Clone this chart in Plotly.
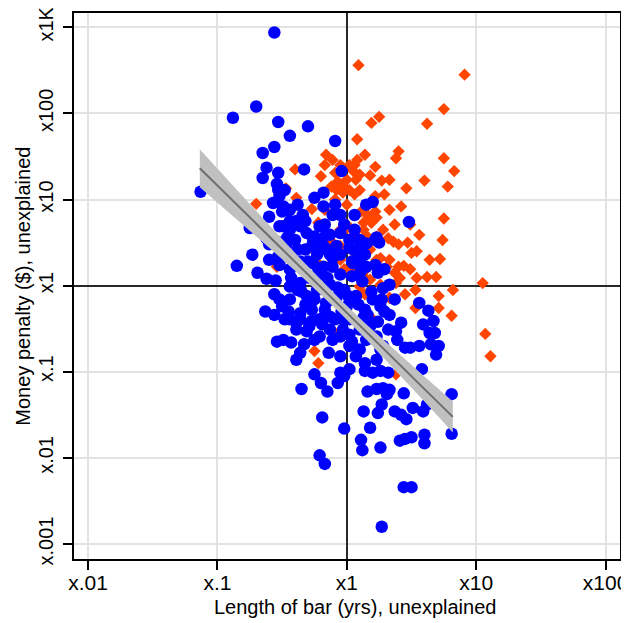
import plotly.graph_objects as go

# Values are log10 residuals (axis labels show the multiplicative factor)
blue_x = [-0.56,-0.70,-0.88,-0.53,-0.30,-0.44,-0.09,-0.56,-0.65,-0.62,-0.53,-0.33,-0.04,-0.65,-0.54,-0.53,-0.48,-1.13,-0.18,-0.25,
          -0.85,-0.73,-0.69,-0.62,-0.55,-0.63,-0.54,-0.43,-0.33,-0.50,-0.45,-0.44,-0.38,-0.75,-0.71,-0.60,-0.53,-0.57,-0.50,-0.21,
          -0.16,-0.11,-0.25,-0.05,-0.49,-0.39,-0.36,-0.39,-0.25,-0.20,-0.15,-0.35,-0.07,-0.02,-0.05,0.02,0.07,0.10,0.02,-0.19,
          -0.02,0.13,0.18,0.11,0.12,0.26,0.24,0.27,0.16,0.23,0.28,0.33,0.31,0.14,0.20,0.26,0.32,0.44,0.37,0.42,
          0.46,0.51,0.59,0.62,0.41,0.45,0.50,0.60,0.60,0.81,0.81,0.58,0.49,0.56,0.65,0.69,-0.21,-0.17,0.44,0.50,
          0.27,0.15,0.20,0.48,0.23,0.25,0.15,0.09,0.02,0.24,0.28,0.20,0.26,0.29,0.56,0.63,0.67,0.59,0.64,0.68,
          0.71,0.42,0.38,0.07,0.00,-0.03,0.18,0.23,0.28,-0.18,-0.09,-0.32,-0.17,-0.49,-0.44,-0.38,-0.34,-0.60,-0.52,-0.44,
          0.22,-0.27,-0.23,-0.16,-0.11,-0.05,-0.26,-0.18,-0.11,-0.47,-0.42,-0.34,0.02,0.10,0.05,0.11,0.04,-0.36,-0.31,-0.23,
          -0.16,-0.08,-0.13,-0.36,-0.27,-0.39,-0.31,-0.21,-0.11,-0.03,0.04,0.13,0.16,0.45,-0.49,-0.14,-0.05,0.14,0.26,0.23,
          -0.26,-0.18,-0.13,-0.08,0.05,0.10,0.15,-0.21,-0.13,-0.05,-0.39,-0.29,0.20,0.15,-0.52,-0.47,-0.44,-0.36,-0.31,-0.62,
          -0.52,-0.40,-0.32,-0.36,-0.44,-0.29,-0.21,-0.13,-0.05,-0.02,0.06,0.14,0.02,-0.09,-0.17,-0.25,-0.32,-0.44,-0.48,-0.02,
          0.06,0.14,0.22,0.29,0.33,0.37,0.33,0.10,0.02,-0.56,-0.52,-0.60,
          -0.46,-0.38,-0.30,-0.22,-0.15,-0.07,0.01,0.09,0.16,0.24,0.32,0.39,-0.43,-0.35,-0.27,-0.19,-0.12,-0.04,0.04,0.12,
          0.19,0.27,-0.21,-0.13,-0.05,0.06,0.10,-0.36,-0.25,-0.44,-0.52,-0.56]
blue_y = [2.94,2.08,1.95,1.90,1.85,1.74,1.68,1.61,1.54,1.37,1.31,1.35,1.33,1.25,1.18,1.11,1.11,1.09,1.08,1.02,
          0.23,0.36,0.15,0.08,0.06,-0.30,-0.65,-0.66,-0.68,-0.24,-0.30,-0.01,-0.05,0.67,0.69,0.48,0.34,0.96,0.86,0.69,
          0.59,0.82,0.57,0.61,0.69,0.75,-0.78,-0.86,-1.03,-1.13,-1.23,-1.20,-1.13,-1.05,-1.01,-0.97,-0.82,-0.74,-0.70,-1.53,
          -1.66,-1.46,-1.65,-1.79,-1.91,-1.88,-1.48,-1.38,-1.23,-1.20,-1.19,-1.21,-1.26,-0.99,-1.01,-0.99,-1.01,-1.25,-1.46,-1.50,
          -1.55,-1.42,-1.46,-1.38,-1.80,-1.78,-1.76,-1.73,-1.83,-1.26,-1.72,-0.97,-0.72,-0.70,-0.68,-0.80,-1.97,-2.07,-2.34,-2.34,
          -2.80,0.94,0.97,0.74,0.56,0.50,0.49,0.42,0.53,0.15,-0.03,-0.16,-0.24,-0.30,-0.20,-0.29,-0.41,-0.45,-0.55,-0.55,
          -0.70,-0.43,-0.53,-0.12,-0.24,-0.39,-0.47,-0.59,-0.70,0.92,0.94,0.75,0.71,0.92,0.88,0.94,0.82,0.80,0.69,0.75,
          0.53,0.46,0.36,0.42,0.32,0.36,0.26,0.22,0.22,0.46,0.30,0.19,0.44,0.34,0.26,0.17,0.11,0.03,-0.12,-0.05,
          -0.20,-0.14,-0.36,-0.32,-0.41,-0.51,-0.53,-0.59,-0.63,-0.51,-0.65,-0.37,-0.55,-0.72,-0.63,-0.78,-0.82,-0.90,-0.74,-0.86,
          0.53,0.46,0.36,0.46,0.42,0.30,0.22,-0.39,-0.51,-0.59,-0.43,-0.47,-0.43,-0.63,1.04,0.88,0.65,0.69,0.61,0.55,
          0.50,0.53,0.42,0.28,0.19,0.09,0.13,0.01,0.13,-0.05,-0.16,-0.28,-0.39,-0.39,-0.28,-0.16,-0.22,-0.16,-0.39,0.71,
          0.65,0.36,0.24,0.19,0.01,-0.16,-0.34,-0.51,-0.57,-0.10,0.24,0.30,
          0.56,0.42,0.28,0.19,0.09,-0.02,-0.12,-0.22,-0.34,-0.42,-0.51,-0.63,0.09,-0.07,-0.28,-0.45,-0.16,-0.30,0.28,0.05,
          -0.07,-0.16,0.53,0.59,0.82,0.82,0.53,-0.39,-0.63,-0.39,-0.16,-0.34]

orange_x = [0.09,0.91,0.75,0.25,0.19,0.62,0.08,0.40,0.38,0.75,0.83,-0.16,-0.11,0.08,0.06,0.02,0.22,0.18,0.27,-0.20,
            -0.09,-0.07,-0.12,0.00,0.07,-0.03,0.02,0.60,0.46,0.78,-0.27,0.00,0.22,0.22,0.16,0.23,0.13,0.19,0.42,0.75,
            0.00,-0.22,0.00,0.06,0.13,0.16,0.28,0.32,0.36,0.40,0.47,0.54,0.50,0.74,0.72,0.26,0.33,0.40,0.44,0.49,
            0.37,0.41,0.38,0.54,0.62,0.69,1.05,0.82,0.71,0.71,0.81,0.53,0.33,0.10,0.18,0.14,0.10,0.15,0.05,1.07,
            1.11,0.20,-0.40,0.05,0.10,-0.08,-0.03,-0.47,0.11,-0.05,0.07,0.18,-0.54,-0.70,-0.39,-0.26,-0.09,-0.25,-0.22,0.10,
            0.15,-0.05,0.02,0.13,0.11,0.23,-0.05,0.23,0.31,0.26,0.38,
            -0.17,-0.05,0.14,0.29,0.33,0.37,0.06,-0.09,-0.17,-0.13,-0.21,0.49,0.56,0.64,0.53,0.45,-0.02,0.33]
orange_y = [2.56,2.45,2.05,1.96,1.89,1.88,1.70,1.56,1.48,1.48,1.33,1.52,1.46,1.46,1.40,1.40,1.38,1.28,1.22,1.27,
            1.31,1.21,1.15,1.23,1.23,1.15,1.11,1.22,1.13,1.15,0.89,0.94,1.04,0.86,0.82,0.79,0.73,0.73,0.92,0.78,
            0.71,0.73,0.67,0.61,0.65,0.57,0.65,0.55,0.51,0.48,0.50,0.40,0.38,0.53,0.31,0.32,0.30,0.22,0.23,0.19,
            0.15,0.09,0.03,0.09,0.10,0.10,0.03,-0.05,-0.12,-0.26,-0.35,-0.26,-0.14,-0.01,0.07,-0.10,0.26,0.19,0.22,-0.56,
            -0.82,-0.39,1.35,1.33,1.29,1.11,1.08,1.13,0.86,0.65,0.34,0.42,0.22,0.95,1.02,0.42,-0.55,-0.76,-0.90,1.11,
            0.92,0.30,0.15,0.11,-0.08,0.57,0.46,0.30,0.22,0.01,-1.03,
            1.40,1.40,1.52,1.06,0.88,0.71,1.06,1.00,0.88,0.53,0.24,0.71,0.59,0.30,-0.05,-0.10,0.19,1.23]

# Fitted line and 95% CI band
band_x = [-1.136,-0.9,-0.6,-0.35,-0.05,0.15,0.4,0.6,0.819]
band_lo = [1.144,0.836,0.441,0.105,-0.320,-0.624,-1.022,-1.346,-1.704]
band_hi = [1.584,1.194,0.703,0.301,-0.160,-0.448,-0.788,-1.054,-1.344]
fit_x = [-1.136,0.819]
fit_y = [1.364,-1.524]

x_tickvals = [-2,-1,0,1,2]
x_ticktext = ["x.01","x.1","x1","x10","x100"]
y_tickvals = [-3,-2,-1,0,1,2,3]
y_ticktext = ["x.001","x.01","x.1","x1","x10","x100","x1K"]
x_title = "Length of bar (yrs), unexplained"
y_title = "Money penalty ($), unexplained"

FONT = "Liberation Sans, Arial, Helvetica, sans-serif"

fig = go.Figure()
fig.add_trace(go.Scatter(x=orange_x, y=orange_y, mode="markers",
                         marker=dict(symbol="diamond", size=9.5, color="#ff4500", line=dict(width=0)),
                         showlegend=False, hoverinfo="skip"))
fig.add_trace(go.Scatter(x=blue_x, y=blue_y, mode="markers",
                         marker=dict(symbol="circle", size=12.5, color="#0000ff", line=dict(width=0)),
                         showlegend=False, hoverinfo="skip"))
fig.add_trace(go.Scatter(x=band_x + band_x[::-1], y=band_hi + band_lo[::-1], mode="lines",
                         fill="toself", fillcolor="rgb(192,192,192)", line=dict(width=0),
                         showlegend=False, hoverinfo="skip"))
fig.add_trace(go.Scatter(x=fit_x, y=fit_y, mode="lines",
                         line=dict(color="rgb(110,110,110)", width=2),
                         showlegend=False, hoverinfo="skip"))

axis_common = dict(showline=True, linecolor="black", linewidth=2, mirror=True,
                   ticks="outside", ticklen=9, tickwidth=1.5, tickcolor="black",
                   showgrid=True, gridcolor="rgb(226,226,226)", gridwidth=2,
                   zeroline=True, zerolinecolor="rgb(40,40,40)", zerolinewidth=2,
                   automargin=False, ticklabeloverflow="allow")

# The page body adds an 8px offset, so the figure is 8px smaller than the window
fig.update_layout(
    width=621, height=615,
    margin=dict(l=66, r=9, t=5, b=64, autoexpand=False),
    paper_bgcolor="white", plot_bgcolor="white",
    font=dict(family=FONT, color="black"),
    xaxis=dict(range=[-2.108, 2.111], tickvals=x_tickvals, ticktext=x_ticktext,
               ticklabelstandoff=-5, tickfont=dict(family=FONT, size=21, color="black"), **axis_common),
    yaxis=dict(range=[-3.174, 3.166], tickvals=y_tickvals, ticktext=y_ticktext, tickangle=-90,
               ticklabelstandoff=2, tickfont=dict(family=FONT, size=20, color="black"), **axis_common),
    annotations=[
        dict(text=x_title, xref="paper", yref="paper", x=0.515, y=-0.088,
             xanchor="center", yanchor="middle", showarrow=False,
             font=dict(family=FONT, size=20, color="black")),
        dict(text=y_title, xref="paper", yref="paper", x=-0.094, y=0.5, textangle=-90,
             xanchor="center", yanchor="middle", showarrow=False,
             font=dict(family=FONT, size=20, color="black")),
    ],
)

fig.write_html("out.html")
